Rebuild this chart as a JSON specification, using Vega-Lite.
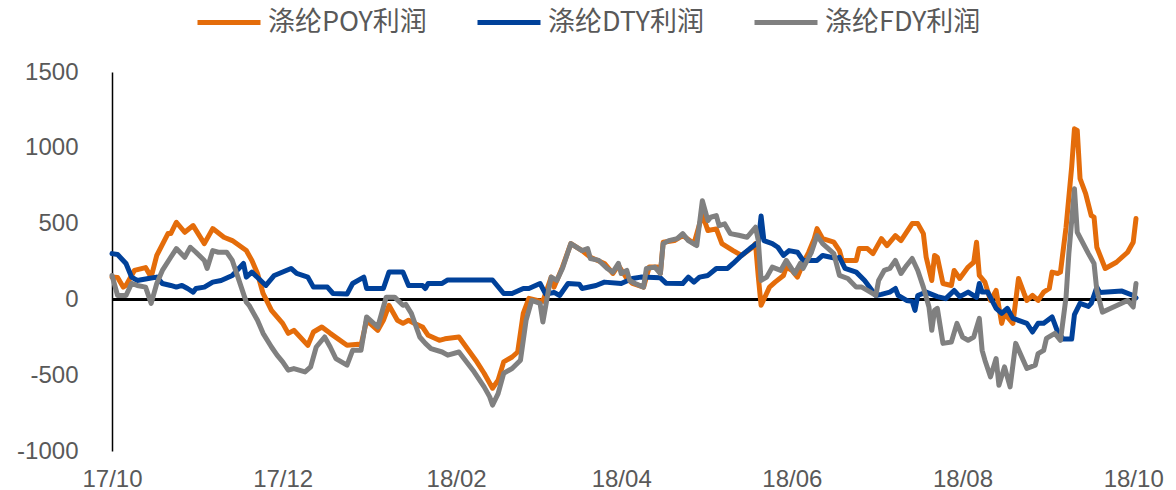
{
  "$schema": "https://vega.github.io/schema/vega-lite/v6.json",
  "autosize": {"type": "none"},
  "width": 1024,
  "height": 379,
  "padding": {"left": 112, "top": 72, "right": 40, "bottom": 39},
  "background": "#ffffff",
  "config": {"view": {"stroke": null}},
  "data": {"values": [
    {"d":"2017-10-01","s":"涤纶POY利润","v":147},{"d":"2017-10-03","s":"涤纶POY利润","v":145},{"d":"2017-10-05","s":"涤纶POY利润","v":81},{"d":"2017-10-06","s":"涤纶POY利润","v":92},{"d":"2017-10-09","s":"涤纶POY利润","v":191},{"d":"2017-10-13","s":"涤纶POY利润","v":210},{"d":"2017-10-15","s":"涤纶POY利润","v":147},{"d":"2017-10-17","s":"涤纶POY利润","v":290},{"d":"2017-10-21","s":"涤纶POY利润","v":434},{"d":"2017-10-22","s":"涤纶POY利润","v":434},{"d":"2017-10-24","s":"涤纶POY利润","v":509},{"d":"2017-10-27","s":"涤纶POY利润","v":443},{"d":"2017-10-30","s":"涤纶POY利润","v":487},{"d":"2017-11-03","s":"涤纶POY利润","v":368},{"d":"2017-11-06","s":"涤纶POY利润","v":467},{"d":"2017-11-10","s":"涤纶POY利润","v":410},{"d":"2017-11-13","s":"涤纶POY利润","v":388},{"d":"2017-11-18","s":"涤纶POY利润","v":322},{"d":"2017-11-20","s":"涤纶POY利润","v":257},{"d":"2017-11-22","s":"涤纶POY利润","v":171},{"d":"2017-11-24","s":"涤纶POY利润","v":39},{"d":"2017-11-27","s":"涤纶POY利润","v":-72},{"d":"2017-12-01","s":"涤纶POY利润","v":-158},{"d":"2017-12-03","s":"涤纶POY利润","v":-224},{"d":"2017-12-05","s":"涤纶POY利润","v":-204},{"d":"2017-12-10","s":"涤纶POY利润","v":-303},{"d":"2017-12-12","s":"涤纶POY利润","v":-215},{"d":"2017-12-15","s":"涤纶POY利润","v":-182},{"d":"2017-12-18","s":"涤纶POY利润","v":-224},{"d":"2017-12-24","s":"涤纶POY利润","v":-303},{"d":"2017-12-28","s":"涤纶POY利润","v":-296},{"d":"2017-12-29","s":"涤纶POY利润","v":-303},{"d":"2017-12-31","s":"涤纶POY利润","v":-138},{"d":"2018-01-04","s":"涤纶POY利润","v":-204},{"d":"2018-01-06","s":"涤纶POY利润","v":-138},{"d":"2018-01-08","s":"涤纶POY利润","v":-39},{"d":"2018-01-11","s":"涤纶POY利润","v":-138},{"d":"2018-01-13","s":"涤纶POY利润","v":-158},{"d":"2018-01-15","s":"涤纶POY利润","v":-138},{"d":"2018-01-17","s":"涤纶POY利润","v":-158},{"d":"2018-01-20","s":"涤纶POY利润","v":-182},{"d":"2018-01-22","s":"涤纶POY利润","v":-237},{"d":"2018-01-26","s":"涤纶POY利润","v":-270},{"d":"2018-01-28","s":"涤纶POY利润","v":-260},{"d":"2018-02-02","s":"涤纶POY利润","v":-248},{"d":"2018-02-08","s":"涤纶POY利润","v":-401},{"d":"2018-02-11","s":"涤纶POY利润","v":-487},{"d":"2018-02-14","s":"涤纶POY利润","v":-586},{"d":"2018-02-16","s":"涤纶POY利润","v":-533},{"d":"2018-02-18","s":"涤纶POY利润","v":-412},{"d":"2018-02-21","s":"涤纶POY利润","v":-380},{"d":"2018-02-23","s":"涤纶POY利润","v":-347},{"d":"2018-02-25","s":"涤纶POY利润","v":-92},{"d":"2018-02-27","s":"涤纶POY利润","v":7},{"d":"2018-03-02","s":"涤纶POY利润","v":-7},{"d":"2018-03-04","s":"涤纶POY利润","v":-13},{"d":"2018-03-07","s":"涤纶POY利润","v":147},{"d":"2018-03-08","s":"涤纶POY利润","v":81},{"d":"2018-03-11","s":"涤纶POY利润","v":213},{"d":"2018-03-14","s":"涤纶POY利润","v":368},{"d":"2018-03-18","s":"涤纶POY利润","v":322},{"d":"2018-03-21","s":"涤纶POY利润","v":278},{"d":"2018-03-26","s":"涤纶POY利润","v":237},{"d":"2018-03-29","s":"涤纶POY利润","v":171},{"d":"2018-03-31","s":"涤纶POY利润","v":224},{"d":"2018-04-03","s":"涤纶POY利润","v":138},{"d":"2018-04-05","s":"涤纶POY利润","v":105},{"d":"2018-04-09","s":"涤纶POY利润","v":81},{"d":"2018-04-11","s":"涤纶POY利润","v":213},{"d":"2018-04-14","s":"涤纶POY利润","v":213},{"d":"2018-04-15","s":"涤纶POY利润","v":171},{"d":"2018-04-16","s":"涤纶POY利润","v":377},{"d":"2018-04-20","s":"涤纶POY利润","v":388},{"d":"2018-04-23","s":"涤纶POY利润","v":421},{"d":"2018-04-27","s":"涤纶POY利润","v":368},{"d":"2018-04-30","s":"涤纶POY利润","v":560},{"d":"2018-05-02","s":"涤纶POY利润","v":454},{"d":"2018-05-05","s":"涤纶POY利润","v":465},{"d":"2018-05-07","s":"涤纶POY利润","v":368},{"d":"2018-05-11","s":"涤纶POY利润","v":322},{"d":"2018-05-14","s":"涤纶POY利润","v":290},{"d":"2018-05-18","s":"涤纶POY利润","v":344},{"d":"2018-05-19","s":"涤纶POY利润","v":368},{"d":"2018-05-20","s":"涤纶POY利润","v":150},{"d":"2018-05-21","s":"涤纶POY利润","v":-39},{"d":"2018-05-24","s":"涤纶POY利润","v":81},{"d":"2018-05-26","s":"涤纶POY利润","v":114},{"d":"2018-05-29","s":"涤纶POY利润","v":158},{"d":"2018-05-30","s":"涤纶POY利润","v":213},{"d":"2018-06-01","s":"涤纶POY利润","v":191},{"d":"2018-06-03","s":"涤纶POY利润","v":147},{"d":"2018-06-05","s":"涤纶POY利润","v":237},{"d":"2018-06-07","s":"涤纶POY利润","v":311},{"d":"2018-06-09","s":"涤纶POY利润","v":401},{"d":"2018-06-10","s":"涤纶POY利润","v":467},{"d":"2018-06-12","s":"涤纶POY利润","v":401},{"d":"2018-06-16","s":"涤纶POY利润","v":377},{"d":"2018-06-18","s":"涤纶POY利润","v":322},{"d":"2018-06-19","s":"涤纶POY利润","v":257},{"d":"2018-06-24","s":"涤纶POY利润","v":257},{"d":"2018-06-25","s":"涤纶POY利润","v":335},{"d":"2018-06-28","s":"涤纶POY利润","v":335},{"d":"2018-06-30","s":"涤纶POY利润","v":302},{"d":"2018-07-02","s":"涤纶POY利润","v":368},{"d":"2018-07-03","s":"涤纶POY利润","v":401},{"d":"2018-07-05","s":"涤纶POY利润","v":355},{"d":"2018-07-08","s":"涤纶POY利润","v":421},{"d":"2018-07-10","s":"涤纶POY利润","v":388},{"d":"2018-07-14","s":"涤纶POY利润","v":500},{"d":"2018-07-16","s":"涤纶POY利润","v":500},{"d":"2018-07-18","s":"涤纶POY利润","v":434},{"d":"2018-07-19","s":"涤纶POY利润","v":278},{"d":"2018-07-21","s":"涤纶POY利润","v":125},{"d":"2018-07-22","s":"涤纶POY利润","v":290},{"d":"2018-07-23","s":"涤纶POY利润","v":278},{"d":"2018-07-25","s":"涤纶POY利润","v":105},{"d":"2018-07-28","s":"涤纶POY利润","v":92},{"d":"2018-07-29","s":"涤纶POY利润","v":191},{"d":"2018-07-31","s":"涤纶POY利润","v":138},{"d":"2018-08-03","s":"涤纶POY利润","v":213},{"d":"2018-08-05","s":"涤纶POY利润","v":245},{"d":"2018-08-06","s":"涤纶POY利润","v":377},{"d":"2018-08-07","s":"涤纶POY利润","v":158},{"d":"2018-08-09","s":"涤纶POY利润","v":114},{"d":"2018-08-11","s":"涤纶POY利润","v":-7},{"d":"2018-08-13","s":"涤纶POY利润","v":59},{"d":"2018-08-15","s":"涤纶POY利润","v":-158},{"d":"2018-08-16","s":"涤纶POY利润","v":-92},{"d":"2018-08-19","s":"涤纶POY利润","v":-158},{"d":"2018-08-21","s":"涤纶POY利润","v":138},{"d":"2018-08-23","s":"涤纶POY利润","v":39},{"d":"2018-08-24","s":"涤纶POY利润","v":-7},{"d":"2018-08-26","s":"涤纶POY利润","v":26},{"d":"2018-08-28","s":"涤纶POY利润","v":-7},{"d":"2018-08-30","s":"涤纶POY利润","v":48},{"d":"2018-09-01","s":"涤纶POY利润","v":72},{"d":"2018-09-02","s":"涤纶POY利润","v":180},{"d":"2018-09-04","s":"涤纶POY利润","v":171},{"d":"2018-09-05","s":"涤纶POY利润","v":180},{"d":"2018-09-07","s":"涤纶POY利润","v":476},{"d":"2018-09-09","s":"涤纶POY利润","v":871},{"d":"2018-09-10","s":"涤纶POY利润","v":1125},{"d":"2018-09-11","s":"涤纶POY利润","v":1115},{"d":"2018-09-12","s":"涤纶POY利润","v":796},{"d":"2018-09-14","s":"涤纶POY利润","v":697},{"d":"2018-09-16","s":"涤纶POY利润","v":553},{"d":"2018-09-17","s":"涤纶POY利润","v":543},{"d":"2018-09-18","s":"涤纶POY利润","v":344},{"d":"2018-09-21","s":"涤纶POY利润","v":204},{"d":"2018-09-25","s":"涤纶POY利润","v":245},{"d":"2018-09-29","s":"涤纶POY利润","v":311},{"d":"2018-10-01","s":"涤纶POY利润","v":377},{"d":"2018-10-02","s":"涤纶POY利润","v":533},

    {"d":"2017-10-01","s":"涤纶DTY利润","v":302},{"d":"2017-10-03","s":"涤纶DTY利润","v":296},{"d":"2017-10-06","s":"涤纶DTY利润","v":237},{"d":"2017-10-08","s":"涤纶DTY利润","v":147},{"d":"2017-10-10","s":"涤纶DTY利润","v":125},{"d":"2017-10-14","s":"涤纶DTY利润","v":138},{"d":"2017-10-17","s":"涤纶DTY利润","v":147},{"d":"2017-10-19","s":"涤纶DTY利润","v":105},{"d":"2017-10-22","s":"涤纶DTY利润","v":92},{"d":"2017-10-24","s":"涤纶DTY利润","v":81},{"d":"2017-10-26","s":"涤纶DTY利润","v":92},{"d":"2017-10-28","s":"涤纶DTY利润","v":72},{"d":"2017-10-30","s":"涤纶DTY利润","v":48},{"d":"2017-10-31","s":"涤纶DTY利润","v":72},{"d":"2017-11-03","s":"涤纶DTY利润","v":81},{"d":"2017-11-06","s":"涤纶DTY利润","v":114},{"d":"2017-11-09","s":"涤纶DTY利润","v":125},{"d":"2017-11-13","s":"涤纶DTY利润","v":158},{"d":"2017-11-17","s":"涤纶DTY利润","v":237},{"d":"2017-11-18","s":"涤纶DTY利润","v":147},{"d":"2017-11-20","s":"涤纶DTY利润","v":180},{"d":"2017-11-25","s":"涤纶DTY利润","v":92},{"d":"2017-11-28","s":"涤纶DTY利润","v":158},{"d":"2017-12-04","s":"涤纶DTY利润","v":204},{"d":"2017-12-06","s":"涤纶DTY利润","v":171},{"d":"2017-12-10","s":"涤纶DTY利润","v":147},{"d":"2017-12-12","s":"涤纶DTY利润","v":81},{"d":"2017-12-17","s":"涤纶DTY利润","v":81},{"d":"2017-12-19","s":"涤纶DTY利润","v":39},{"d":"2017-12-24","s":"涤纶DTY利润","v":35},{"d":"2017-12-26","s":"涤纶DTY利润","v":105},{"d":"2017-12-30","s":"涤纶DTY利润","v":147},{"d":"2017-12-31","s":"涤纶DTY利润","v":72},{"d":"2018-01-06","s":"涤纶DTY利润","v":72},{"d":"2018-01-08","s":"涤纶DTY利润","v":180},{"d":"2018-01-13","s":"涤纶DTY利润","v":180},{"d":"2018-01-15","s":"涤纶DTY利润","v":92},{"d":"2018-01-20","s":"涤纶DTY利润","v":92},{"d":"2018-01-21","s":"涤纶DTY利润","v":72},{"d":"2018-01-22","s":"涤纶DTY利润","v":105},{"d":"2018-01-27","s":"涤纶DTY利润","v":105},{"d":"2018-01-29","s":"涤纶DTY利润","v":128},{"d":"2018-02-14","s":"涤纶DTY利润","v":128},{"d":"2018-02-18","s":"涤纶DTY利润","v":39},{"d":"2018-02-21","s":"涤纶DTY利润","v":39},{"d":"2018-02-25","s":"涤纶DTY利润","v":72},{"d":"2018-02-27","s":"涤纶DTY利润","v":72},{"d":"2018-03-03","s":"涤纶DTY利润","v":105},{"d":"2018-03-05","s":"涤纶DTY利润","v":35},{"d":"2018-03-08","s":"涤纶DTY利润","v":46},{"d":"2018-03-10","s":"涤纶DTY利润","v":26},{"d":"2018-03-13","s":"涤纶DTY利润","v":105},{"d":"2018-03-17","s":"涤纶DTY利润","v":100},{"d":"2018-03-18","s":"涤纶DTY利润","v":72},{"d":"2018-03-23","s":"涤纶DTY利润","v":92},{"d":"2018-03-26","s":"涤纶DTY利润","v":114},{"d":"2018-04-01","s":"涤纶DTY利润","v":105},{"d":"2018-04-05","s":"涤纶DTY利润","v":138},{"d":"2018-04-08","s":"涤纶DTY利润","v":147},{"d":"2018-04-15","s":"涤纶DTY利润","v":142},{"d":"2018-04-17","s":"涤纶DTY利润","v":107},{"d":"2018-04-23","s":"涤纶DTY利润","v":105},{"d":"2018-04-25","s":"涤纶DTY利润","v":147},{"d":"2018-04-27","s":"涤纶DTY利润","v":114},{"d":"2018-04-29","s":"涤纶DTY利润","v":147},{"d":"2018-05-02","s":"涤纶DTY利润","v":158},{"d":"2018-05-05","s":"涤纶DTY利润","v":204},{"d":"2018-05-09","s":"涤纶DTY利润","v":204},{"d":"2018-05-11","s":"涤纶DTY利润","v":237},{"d":"2018-05-14","s":"涤纶DTY利润","v":290},{"d":"2018-05-17","s":"涤纶DTY利润","v":335},{"d":"2018-05-20","s":"涤纶DTY利润","v":377},{"d":"2018-05-21","s":"涤纶DTY利润","v":550},{"d":"2018-05-22","s":"涤纶DTY利润","v":388},{"d":"2018-05-25","s":"涤纶DTY利润","v":368},{"d":"2018-05-27","s":"涤纶DTY利润","v":344},{"d":"2018-05-29","s":"涤纶DTY利润","v":290},{"d":"2018-05-31","s":"涤纶DTY利润","v":322},{"d":"2018-06-03","s":"涤纶DTY利润","v":311},{"d":"2018-06-05","s":"涤纶DTY利润","v":257},{"d":"2018-06-07","s":"涤纶DTY利润","v":257},{"d":"2018-06-10","s":"涤纶DTY利润","v":257},{"d":"2018-06-12","s":"涤纶DTY利润","v":290},{"d":"2018-06-17","s":"涤纶DTY利润","v":270},{"d":"2018-06-18","s":"涤纶DTY利润","v":278},{"d":"2018-06-20","s":"涤纶DTY利润","v":204},{"d":"2018-06-24","s":"涤纶DTY利润","v":180},{"d":"2018-06-27","s":"涤纶DTY利润","v":125},{"d":"2018-07-01","s":"涤纶DTY利润","v":26},{"d":"2018-07-03","s":"涤纶DTY利润","v":33},{"d":"2018-07-06","s":"涤纶DTY利润","v":48},{"d":"2018-07-08","s":"涤纶DTY利润","v":72},{"d":"2018-07-09","s":"涤纶DTY利润","v":26},{"d":"2018-07-12","s":"涤纶DTY利润","v":-7},{"d":"2018-07-14","s":"涤纶DTY利润","v":-13},{"d":"2018-07-15","s":"涤纶DTY利润","v":-72},{"d":"2018-07-16","s":"涤纶DTY利润","v":26},{"d":"2018-07-19","s":"涤纶DTY利润","v":48},{"d":"2018-07-23","s":"涤纶DTY利润","v":18},{"d":"2018-07-26","s":"涤纶DTY利润","v":5},{"d":"2018-07-29","s":"涤纶DTY利润","v":59},{"d":"2018-07-31","s":"涤纶DTY利润","v":18},{"d":"2018-08-03","s":"涤纶DTY利润","v":48},{"d":"2018-08-06","s":"涤纶DTY利润","v":13},{"d":"2018-08-07","s":"涤纶DTY利润","v":105},{"d":"2018-08-08","s":"涤纶DTY利润","v":48},{"d":"2018-08-10","s":"涤纶DTY利润","v":48},{"d":"2018-08-13","s":"涤纶DTY利润","v":-59},{"d":"2018-08-15","s":"涤纶DTY利润","v":-92},{"d":"2018-08-17","s":"涤纶DTY利润","v":-59},{"d":"2018-08-19","s":"涤纶DTY利润","v":-125},{"d":"2018-08-22","s":"涤纶DTY利润","v":-145},{"d":"2018-08-24","s":"涤纶DTY利润","v":-158},{"d":"2018-08-26","s":"涤纶DTY利润","v":-215},{"d":"2018-08-28","s":"涤纶DTY利润","v":-158},{"d":"2018-08-30","s":"涤纶DTY利润","v":-158},{"d":"2018-09-02","s":"涤纶DTY利润","v":-116},{"d":"2018-09-04","s":"涤纶DTY利润","v":-215},{"d":"2018-09-06","s":"涤纶DTY利润","v":-262},{"d":"2018-09-09","s":"涤纶DTY利润","v":-262},{"d":"2018-09-10","s":"涤纶DTY利润","v":-100},{"d":"2018-09-12","s":"涤纶DTY利润","v":-26},{"d":"2018-09-15","s":"涤纶DTY利润","v":-46},{"d":"2018-09-16","s":"涤纶DTY利润","v":-26},{"d":"2018-09-18","s":"涤纶DTY利润","v":80},{"d":"2018-09-19","s":"涤纶DTY利润","v":46},{"d":"2018-09-27","s":"涤纶DTY利润","v":55},{"d":"2018-10-01","s":"涤纶DTY利润","v":26},{"d":"2018-10-02","s":"涤纶DTY利润","v":10},

    {"d":"2017-10-01","s":"涤纶FDY利润","v":158},{"d":"2017-10-03","s":"涤纶FDY利润","v":26},{"d":"2017-10-06","s":"涤纶FDY利润","v":26},{"d":"2017-10-08","s":"涤纶FDY利润","v":105},{"d":"2017-10-10","s":"涤纶FDY利润","v":92},{"d":"2017-10-13","s":"涤纶FDY利润","v":81},{"d":"2017-10-15","s":"涤纶FDY利润","v":-26},{"d":"2017-10-17","s":"涤纶FDY利润","v":105},{"d":"2017-10-19","s":"涤纶FDY利润","v":191},{"d":"2017-10-22","s":"涤纶FDY利润","v":278},{"d":"2017-10-24","s":"涤纶FDY利润","v":335},{"d":"2017-10-27","s":"涤纶FDY利润","v":278},{"d":"2017-10-29","s":"涤纶FDY利润","v":344},{"d":"2017-10-31","s":"涤纶FDY利润","v":311},{"d":"2017-11-03","s":"涤纶FDY利润","v":257},{"d":"2017-11-04","s":"涤纶FDY利润","v":204},{"d":"2017-11-06","s":"涤纶FDY利润","v":322},{"d":"2017-11-08","s":"涤纶FDY利润","v":311},{"d":"2017-11-11","s":"涤纶FDY利润","v":311},{"d":"2017-11-13","s":"涤纶FDY利润","v":257},{"d":"2017-11-15","s":"涤纶FDY利润","v":147},{"d":"2017-11-18","s":"涤纶FDY利润","v":-18},{"d":"2017-11-19","s":"涤纶FDY利润","v":-39},{"d":"2017-11-22","s":"涤纶FDY利润","v":-138},{"d":"2017-11-24","s":"涤纶FDY利润","v":-224},{"d":"2017-11-27","s":"涤纶FDY利润","v":-314},{"d":"2017-11-29","s":"涤纶FDY利润","v":-368},{"d":"2017-12-01","s":"涤纶FDY利润","v":-412},{"d":"2017-12-03","s":"涤纶FDY利润","v":-467},{"d":"2017-12-05","s":"涤纶FDY利润","v":-456},{"d":"2017-12-09","s":"涤纶FDY利润","v":-478},{"d":"2017-12-11","s":"涤纶FDY利润","v":-445},{"d":"2017-12-13","s":"涤纶FDY利润","v":-314},{"d":"2017-12-16","s":"涤纶FDY利润","v":-248},{"d":"2017-12-18","s":"涤纶FDY利润","v":-314},{"d":"2017-12-20","s":"涤纶FDY利润","v":-390},{"d":"2017-12-24","s":"涤纶FDY利润","v":-434},{"d":"2017-12-26","s":"涤纶FDY利润","v":-336},{"d":"2017-12-29","s":"涤纶FDY利润","v":-336},{"d":"2017-12-31","s":"涤纶FDY利润","v":-116},{"d":"2018-01-04","s":"涤纶FDY利润","v":-182},{"d":"2018-01-06","s":"涤纶FDY利润","v":-50},{"d":"2018-01-07","s":"涤纶FDY利润","v":15},{"d":"2018-01-10","s":"涤纶FDY利润","v":15},{"d":"2018-01-13","s":"涤纶FDY利润","v":-39},{"d":"2018-01-14","s":"涤纶FDY利润","v":-33},{"d":"2018-01-16","s":"涤纶FDY利润","v":-92},{"d":"2018-01-19","s":"涤纶FDY利润","v":-248},{"d":"2018-01-21","s":"涤纶FDY利润","v":-290},{"d":"2018-01-23","s":"涤纶FDY利润","v":-325},{"d":"2018-01-27","s":"涤纶FDY利润","v":-347},{"d":"2018-01-29","s":"涤纶FDY利润","v":-368},{"d":"2018-02-02","s":"涤纶FDY利润","v":-347},{"d":"2018-02-07","s":"涤纶FDY利润","v":-467},{"d":"2018-02-11","s":"涤纶FDY利润","v":-577},{"d":"2018-02-13","s":"涤纶FDY利润","v":-643},{"d":"2018-02-14","s":"涤纶FDY利润","v":-697},{"d":"2018-02-16","s":"涤纶FDY利润","v":-621},{"d":"2018-02-18","s":"涤纶FDY利润","v":-487},{"d":"2018-02-21","s":"涤纶FDY利润","v":-456},{"d":"2018-02-24","s":"涤纶FDY利润","v":-401},{"d":"2018-02-26","s":"涤纶FDY利润","v":-138},{"d":"2018-02-28","s":"涤纶FDY利润","v":-7},{"d":"2018-03-03","s":"涤纶FDY利润","v":-26},{"d":"2018-03-04","s":"涤纶FDY利润","v":-149},{"d":"2018-03-06","s":"涤纶FDY利润","v":59},{"d":"2018-03-07","s":"涤纶FDY利润","v":147},{"d":"2018-03-09","s":"涤纶FDY利润","v":125},{"d":"2018-03-11","s":"涤纶FDY利润","v":204},{"d":"2018-03-14","s":"涤纶FDY利润","v":368},{"d":"2018-03-15","s":"涤纶FDY利润","v":357},{"d":"2018-03-18","s":"涤纶FDY利润","v":322},{"d":"2018-03-20","s":"涤纶FDY利润","v":335},{"d":"2018-03-21","s":"涤纶FDY利润","v":270},{"d":"2018-03-24","s":"涤纶FDY利润","v":257},{"d":"2018-03-27","s":"涤纶FDY利润","v":204},{"d":"2018-03-29","s":"涤纶FDY利润","v":180},{"d":"2018-03-31","s":"涤纶FDY利润","v":237},{"d":"2018-04-01","s":"涤纶FDY利润","v":171},{"d":"2018-04-03","s":"涤纶FDY利润","v":191},{"d":"2018-04-04","s":"涤纶FDY利润","v":125},{"d":"2018-04-06","s":"涤纶FDY利润","v":105},{"d":"2018-04-09","s":"涤纶FDY利润","v":81},{"d":"2018-04-10","s":"涤纶FDY利润","v":204},{"d":"2018-04-13","s":"涤纶FDY利润","v":213},{"d":"2018-04-15","s":"涤纶FDY利润","v":171},{"d":"2018-04-16","s":"涤纶FDY利润","v":368},{"d":"2018-04-18","s":"涤纶FDY利润","v":388},{"d":"2018-04-21","s":"涤纶FDY利润","v":401},{"d":"2018-04-23","s":"涤纶FDY利润","v":434},{"d":"2018-04-25","s":"涤纶FDY利润","v":388},{"d":"2018-04-28","s":"涤纶FDY利润","v":355},{"d":"2018-04-30","s":"涤纶FDY利润","v":651},{"d":"2018-05-02","s":"涤纶FDY利润","v":520},{"d":"2018-05-03","s":"涤纶FDY利润","v":542},{"d":"2018-05-05","s":"涤纶FDY利润","v":553},{"d":"2018-05-06","s":"涤纶FDY利润","v":487},{"d":"2018-05-08","s":"涤纶FDY利润","v":498},{"d":"2018-05-10","s":"涤纶FDY利润","v":434},{"d":"2018-05-13","s":"涤纶FDY利润","v":423},{"d":"2018-05-16","s":"涤纶FDY利润","v":410},{"d":"2018-05-18","s":"涤纶FDY利润","v":454},{"d":"2018-05-19","s":"涤纶FDY利润","v":476},{"d":"2018-05-20","s":"涤纶FDY利润","v":388},{"d":"2018-05-21","s":"涤纶FDY利润","v":125},{"d":"2018-05-23","s":"涤纶FDY利润","v":147},{"d":"2018-05-25","s":"涤纶FDY利润","v":213},{"d":"2018-05-28","s":"涤纶FDY利润","v":191},{"d":"2018-05-30","s":"涤纶FDY利润","v":257},{"d":"2018-06-02","s":"涤纶FDY利润","v":171},{"d":"2018-06-04","s":"涤纶FDY利润","v":237},{"d":"2018-06-05","s":"涤纶FDY利润","v":204},{"d":"2018-06-08","s":"涤纶FDY利润","v":311},{"d":"2018-06-10","s":"涤纶FDY利润","v":421},{"d":"2018-06-12","s":"涤纶FDY利润","v":368},{"d":"2018-06-16","s":"涤纶FDY利润","v":302},{"d":"2018-06-18","s":"涤纶FDY利润","v":158},{"d":"2018-06-21","s":"涤纶FDY利润","v":138},{"d":"2018-06-24","s":"涤纶FDY利润","v":81},{"d":"2018-06-26","s":"涤纶FDY利润","v":81},{"d":"2018-06-28","s":"涤纶FDY利润","v":59},{"d":"2018-07-01","s":"涤纶FDY利润","v":26},{"d":"2018-07-02","s":"涤纶FDY利润","v":125},{"d":"2018-07-04","s":"涤纶FDY利润","v":191},{"d":"2018-07-06","s":"涤纶FDY利润","v":204},{"d":"2018-07-08","s":"涤纶FDY利润","v":257},{"d":"2018-07-10","s":"涤纶FDY利润","v":171},{"d":"2018-07-12","s":"涤纶FDY利润","v":224},{"d":"2018-07-14","s":"涤纶FDY利润","v":270},{"d":"2018-07-16","s":"涤纶FDY利润","v":191},{"d":"2018-07-18","s":"涤纶FDY利润","v":81},{"d":"2018-07-20","s":"涤纶FDY利润","v":-50},{"d":"2018-07-21","s":"涤纶FDY利润","v":-204},{"d":"2018-07-22","s":"涤纶FDY利润","v":-72},{"d":"2018-07-23","s":"涤纶FDY利润","v":-59},{"d":"2018-07-25","s":"涤纶FDY利润","v":-290},{"d":"2018-07-28","s":"涤纶FDY利润","v":-281},{"d":"2018-07-30","s":"涤纶FDY利润","v":-158},{"d":"2018-08-01","s":"涤纶FDY利润","v":-248},{"d":"2018-08-03","s":"涤纶FDY利润","v":-270},{"d":"2018-08-05","s":"涤纶FDY利润","v":-248},{"d":"2018-08-07","s":"涤纶FDY利润","v":-125},{"d":"2018-08-08","s":"涤纶FDY利润","v":-336},{"d":"2018-08-09","s":"涤纶FDY利润","v":-401},{"d":"2018-08-11","s":"涤纶FDY利润","v":-511},{"d":"2018-08-13","s":"涤纶FDY利润","v":-390},{"d":"2018-08-14","s":"涤纶FDY利润","v":-566},{"d":"2018-08-16","s":"涤纶FDY利润","v":-445},{"d":"2018-08-18","s":"涤纶FDY利润","v":-577},{"d":"2018-08-20","s":"涤纶FDY利润","v":-290},{"d":"2018-08-24","s":"涤纶FDY利润","v":-456},{"d":"2018-08-27","s":"涤纶FDY利润","v":-434},{"d":"2018-08-28","s":"涤纶FDY利润","v":-358},{"d":"2018-08-30","s":"涤纶FDY利润","v":-336},{"d":"2018-08-31","s":"涤纶FDY利润","v":-257},{"d":"2018-09-03","s":"涤纶FDY利润","v":-224},{"d":"2018-09-05","s":"涤纶FDY利润","v":-270},{"d":"2018-09-07","s":"涤纶FDY利润","v":15},{"d":"2018-09-08","s":"涤纶FDY利润","v":302},{"d":"2018-09-10","s":"涤纶FDY利润","v":730},{"d":"2018-09-11","s":"涤纶FDY利润","v":443},{"d":"2018-09-15","s":"涤纶FDY利润","v":302},{"d":"2018-09-17","s":"涤纶FDY利润","v":237},{"d":"2018-09-18","s":"涤纶FDY利润","v":59},{"d":"2018-09-20","s":"涤纶FDY利润","v":-84},{"d":"2018-09-23","s":"涤纶FDY利润","v":-59},{"d":"2018-09-29","s":"涤纶FDY利润","v":-7},{"d":"2018-10-01","s":"涤纶FDY利润","v":-50},{"d":"2018-10-02","s":"涤纶FDY利润","v":105}
  ]},
  "layer": [
    {
      "mark": {"type": "rule", "color": "#000000", "strokeWidth": 1.5},
      "encoding": {"y": {"datum": 0, "type": "quantitative"}}
    },
    {
      "mark": {"type": "line", "strokeWidth": 5, "strokeJoin": "round", "strokeCap": "round"},
      "encoding": {
        "x": {
          "field": "d", "type": "temporal",
          "scale": {"type": "utc", "nice": false},
          "axis": {
            "title": null, "domain": false, "ticks": false, "grid": false,
            "labelExpr": "utcFormat(datum.value, '%y/%m')",
            "values": [
              {"year": 2017, "month": 10, "date": 1, "utc": true},
              {"year": 2017, "month": 12, "date": 1, "utc": true},
              {"year": 2018, "month": 2, "date": 1, "utc": true},
              {"year": 2018, "month": 4, "date": 1, "utc": true},
              {"year": 2018, "month": 6, "date": 1, "utc": true},
              {"year": 2018, "month": 8, "date": 1, "utc": true},
              {"year": 2018, "month": 10, "date": 1, "utc": true}
            ],
            "labelFont": "Liberation Sans", "labelFontSize": 24, "labelColor": "#595959",
            "labelPadding": 16, "labelOverlap": false, "labelFlush": false
          }
        },
        "y": {
          "field": "v", "type": "quantitative",
          "scale": {"domain": [-1000, 1500], "nice": false},
          "axis": {
            "title": null, "values": [-1000, -500, 0, 500, 1000, 1500],
            "grid": false, "ticks": false, "domain": true, "domainColor": "#000000", "domainWidth": 1.5,
            "labelFont": "Liberation Sans", "labelFontSize": 24, "labelColor": "#595959",
            "labelPadding": 34, "labelExpr": "'' + datum.value"
          }
        },
        "color": {
          "field": "s", "type": "nominal",
          "scale": {"domain": ["涤纶POY利润", "涤纶DTY利润", "涤纶FDY利润"], "range": ["#E46C0A", "#00419A", "#808080"]},
          "legend": {
            "title": null, "orient": "none", "legendX": 83, "legendY": -83.5, "direction": "horizontal",
            "symbolType": "stroke", "symbolSize": 3969, "symbolStrokeWidth": 5,
            "labelFont": "Noto Sans CJK SC", "labelFontSize": 27, "labelColor": "#595959",
            "labelOffset": 5, "labelLimit": 400, "columnPadding": 40, "padding": 0
          }
        },
        "order": {"field": "d", "type": "temporal"}
      }
    }
  ]
}
